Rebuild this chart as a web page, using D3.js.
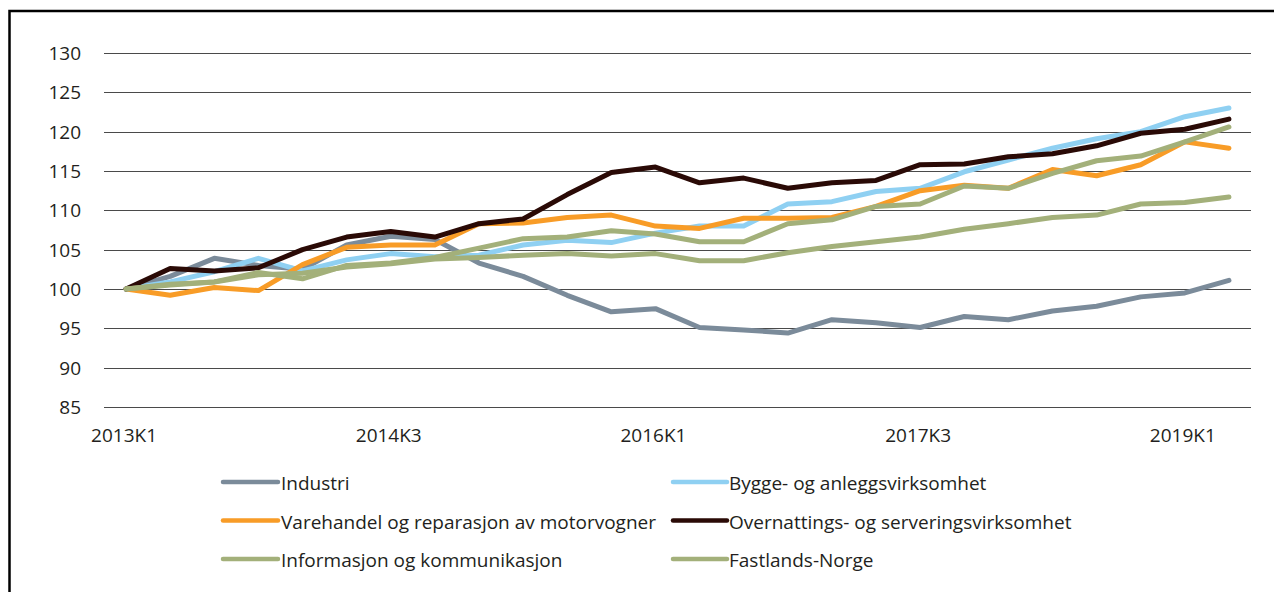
<!DOCTYPE html>
<html>
<head>
<meta charset="utf-8">
<script src="https://cdn.jsdelivr.net/npm/d3@7"></script>
<style>
  html, body { margin: 0; padding: 0; background: #fff; }
  svg { display: block; }
  text { font-family: "Open Sans", "Noto Sans", sans-serif; fill: #231f20; }
</style>
</head>
<body>
<svg id="chart" width="1274" height="592"></svg>
<script>
const quarters = [
  "2013K1","2013K2","2013K3","2013K4","2014K1","2014K2","2014K3","2014K4",
  "2015K1","2015K2","2015K3","2015K4","2016K1","2016K2","2016K3","2016K4",
  "2017K1","2017K2","2017K3","2017K4","2018K1","2018K2","2018K3","2018K4",
  "2019K1","2019K2"
];
const xTickLabels = ["2013K1","2014K3","2016K1","2017K3","2019K1"];
const yTicks = [85, 90, 95, 100, 105, 110, 115, 120, 125, 130];

const seriesNames = [
  "Industri",
  "Bygge- og anleggsvirksomhet",
  "Varehandel og reparasjon av motorvogner",
  "Overnattings- og serveringsvirksomhet",
  "Informasjon og kommunikasjon",
  "Fastlands-Norge"
];
const seriesColors = ["#7b8b9a", "#8fd0f2", "#f89c27", "#2a0a06", "#a3b07a", "#a3b07a"];

const industri = [100, 101.6, 103.9, 103.0, 102.5, 105.6, 106.7, 106.3, 103.3, 101.6, 99.2, 97.1, 97.5,
  95.1, 94.8, 94.4, 96.1, 95.7, 95.1, 96.5, 96.1, 97.2, 97.8, 99.0, 99.5, 101.1];
const bygge = [100, 100.9, 102.2, 103.9, 102.3, 103.7, 104.5, 104.1, 104.3, 105.6, 106.2, 105.9, 107.1,
  108.0, 108.0, 110.8, 111.1, 112.4, 112.8, 114.9, 116.4, 117.9, 119.1, 120.0, 121.9, 123.0];
const varehandel = [100, 99.2, 100.2, 99.8, 103.1, 105.3, 105.6, 105.6, 108.3, 108.4, 109.1, 109.4, 108.0,
  107.7, 109.0, 109.0, 109.1, 110.5, 112.5, 113.2, 112.8, 115.2, 114.4, 115.8, 118.7, 117.9];
const overnatting = [100, 102.6, 102.3, 102.7, 105.0, 106.6, 107.3, 106.6, 108.3, 108.9, 112.0, 114.8, 115.5,
  113.5, 114.1, 112.8, 113.5, 113.8, 115.8, 115.9, 116.8, 117.2, 118.2, 119.8, 120.3, 121.6];
const informasjon = [100, 100.6, 100.9, 102.1, 101.3, 103.0, 103.3, 104.0, 105.2, 106.4, 106.6, 107.4, 107.0,
  106.0, 106.0, 108.3, 108.8, 110.5, 110.8, 113.1, 112.8, 114.7, 116.3, 116.9, 118.7, 120.6];
const fastlands = [100, 100.5, 100.9, 101.8, 102.0, 102.8, 103.2, 103.8, 104.0, 104.3, 104.5, 104.2, 104.5,
  103.6, 103.6, 104.6, 105.4, 106.0, 106.6, 107.6, 108.3, 109.1, 109.4, 110.8, 111.0, 111.7];

const seriesValues = [industri, bygge, varehandel, overnatting, informasjon, fastlands];

const svg = d3.select("#chart");

// outer frame (left + top edges visible)
svg.append("rect")
  .attr("x", 9.5).attr("y", 11)
  .attr("width", 1400).attr("height", 800)
  .attr("fill", "none").attr("stroke", "#000").attr("stroke-width", 2.5);

const x = d3.scalePoint().domain(quarters).range([104, 1251]).padding(0.5);
const y = d3.scaleLinear().domain([85, 130]).range([407, 53]);

// grid lines
svg.append("g").selectAll("line").data(yTicks).join("line")
  .attr("x1", 104).attr("x2", 1251)
  .attr("y1", d => Math.round(y(d)) + 0.5).attr("y2", d => Math.round(y(d)) + 0.5)
  .attr("stroke", "#4a4a4a").attr("stroke-width", 1.2);

// y axis labels
svg.append("g").selectAll("text").data(yTicks).join("text")
  .attr("x", 81).attr("y", d => y(d))
  .attr("text-anchor", "end").attr("dominant-baseline", "central")
  .attr("font-size", 19)
  .text(d => d);

// x axis labels
svg.append("g").selectAll("text").data(xTickLabels).join("text")
  .attr("x", d => x(d) - 2).attr("y", 442)
  .attr("text-anchor", "middle")
  .attr("font-size", 19)
  .text(d => d);

// lines
const line = d3.line().x((d, i) => x(quarters[i])).y(d => y(d));
svg.append("g").selectAll("path").data(seriesValues).join("path")
  .attr("d", d => line(d))
  .attr("fill", "none")
  .attr("stroke", (d, i) => seriesColors[i])
  .attr("stroke-width", 5)
  .attr("stroke-linejoin", "round")
  .attr("stroke-linecap", "round");

// legend
const legendCols = [{lx1: 223, lx2: 278, tx: 281}, {lx1: 673, lx2: 727, tx: 729}];
const legendRows = [490, 528.5, 567];
const leg = svg.append("g").selectAll("g").data(seriesNames).join("g");
leg.append("line")
  .attr("x1", (d, i) => legendCols[i % 2].lx1)
  .attr("x2", (d, i) => legendCols[i % 2].lx2)
  .attr("y1", (d, i) => legendRows[Math.floor(i / 2)] - 8)
  .attr("y2", (d, i) => legendRows[Math.floor(i / 2)] - 8)
  .attr("stroke", (d, i) => seriesColors[i])
  .attr("stroke-width", 4.5)
  .attr("stroke-linecap", "round");
leg.append("text")
  .attr("x", (d, i) => legendCols[i % 2].tx)
  .attr("y", (d, i) => legendRows[Math.floor(i / 2)])
  .attr("font-size", 19)
  .text(d => d);
</script>
</body>
</html>
